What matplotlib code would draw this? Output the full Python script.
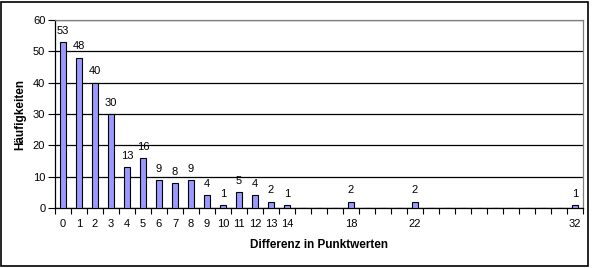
import matplotlib
matplotlib.use("Agg")
import matplotlib.pyplot as plt
from matplotlib.patches import Rectangle

plt.rcParams['font.family'] = ['Liberation Sans', 'DejaVu Sans']

categories = list(range(0, 33))
values = [53, 48, 40, 30, 13, 16, 9, 8, 9, 4, 1, 5, 4, 2, 1,
          0, 0, 0, 2, 0, 0, 0, 2, 0, 0, 0, 0, 0, 0, 0, 0, 0, 1]
tick_labels = [str(c) if (c <= 14 or c in (18, 22, 32)) else '' for c in categories]

W, H = 592, 268
fig = plt.figure(figsize=(W / 100, H / 100), dpi=100)
ax = fig.add_axes([55 / W, 1 - 208 / H, (583 - 55) / W, (208 - 20) / H])

x = list(range(len(categories)))
ax.bar(x, values, width=0.4, color='#9999FF', edgecolor='black', linewidth=0.8, zorder=3)

for xi, v in zip(x, values):
    if v > 0:
        ax.annotate(str(v), (xi, v), xytext=(0, 4.5), textcoords='offset points',
                    ha='center', va='bottom', fontsize=8)

ax.set_xlim(-0.5, len(categories) - 0.5)
ax.set_ylim(0, 60)
ax.set_yticks(range(0, 61, 10))
ax.set_xticks(x)
ax.set_xticklabels(tick_labels)
ax.set_xticks([i - 0.5 for i in range(len(categories) + 1)], minor=True)
ax.tick_params(axis='x', which='major', length=0, labelsize=8, pad=8)
ax.tick_params(axis='x', which='minor', length=4, width=0.8, direction='out')
ax.tick_params(axis='y', length=5, width=0.8, labelsize=8, pad=2)

ax.yaxis.grid(True, color='black', linewidth=0.9, zorder=0)
ax.set_axisbelow(True)
for s in ['top', 'right']:
    ax.spines[s].set_color('#808080')
    ax.spines[s].set_linewidth(0.9)
for s in ['left', 'bottom']:
    ax.spines[s].set_color('black')
    ax.spines[s].set_linewidth(0.9)

ax.set_ylabel('Häufigkeiten', fontsize=8.5, fontweight='bold', labelpad=5)
ax.set_xlabel('Differenz in Punktwerten', fontsize=8.5, fontweight='bold', labelpad=7)

fig.patches.append(Rectangle((1 / W, 2 / H), (588 - 1) / W, (266 - 2) / H,
                             transform=fig.transFigure, fill=False,
                             edgecolor='black', linewidth=1.2))

fig.savefig('out.png', dpi=100)
